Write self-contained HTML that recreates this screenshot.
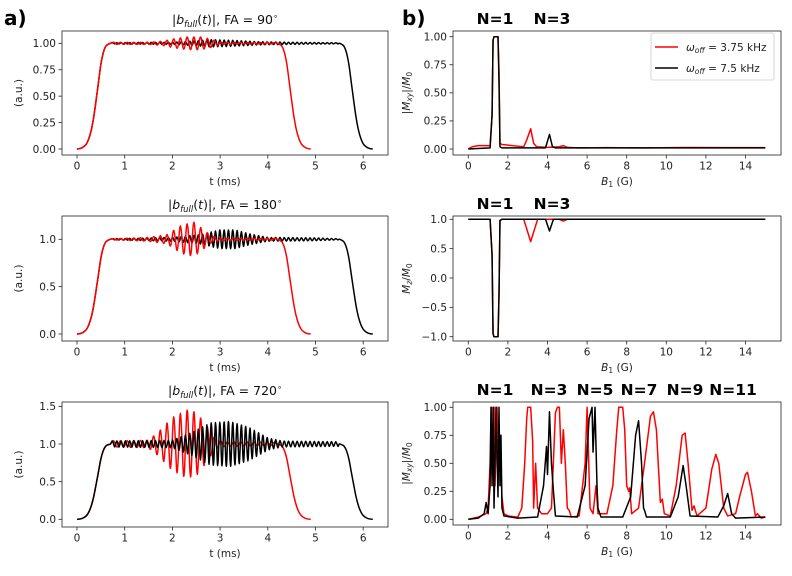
<!DOCTYPE html>
<html><head><meta charset="utf-8"><style>
body{margin:0;background:#fff}
svg{display:block;font-family:"DejaVu Sans","Liberation Sans",sans-serif}
</style></head><body>
<svg id="fig" width="792" height="576" viewBox="0 0 792 576" xmlns="http://www.w3.org/2000/svg">
<rect width="792" height="576" fill="#fff"/>
<text x="4" y="25" font-size="20" font-weight="bold">a)</text>
<text x="402" y="25" font-size="20" font-weight="bold">b)</text>
<g id="g"></g>
</svg>
<script>
// ---------- data ----------
const riseT=[0,0.05,0.1,0.15,0.2,0.25,0.3,0.35,0.4,0.45,0.5,0.55,0.6,0.65,0.7];
const riseV=[0,0.003,0.01,0.025,0.05,0.1,0.18,0.3,0.46,0.63,0.8,0.91,0.97,0.99,1];
const fallRedT=[4.2,4.25,4.3,4.35,4.4,4.45,4.5,4.55,4.6,4.65,4.7,4.75,4.8,4.85,4.9];
const fallBlackT=[5.5,5.55,5.6,5.65,5.7,5.75,5.8,5.85,5.9,5.95,6.0,6.05,6.1,6.15,6.2];
const fallV=[1,0.99,0.97,0.91,0.8,0.63,0.46,0.3,0.18,0.1,0.05,0.025,0.01,0.003,0];
// oscillation envelopes (time, amplitude)
const env90RedT=[0.7,1.5,1.8,2.0,2.3,2.6,2.8,3.0,4.2];
const env90RedA=[0.01,0.01,0.02,0.04,0.06,0.06,0.04,0.01,0.005];
const env90BlkT=[0.7,2.0,2.4,2.8,3.2,3.8,4.5,5.5];
const env90BlkA=[0.005,0.01,0.02,0.035,0.03,0.015,0.01,0.005];
const env180RedT=[0.7,1.0,1.5,1.9,2.2,2.45,2.6,2.8,3.0,4.2];
const env180RedA=[0.005,0.01,0.02,0.05,0.15,0.18,0.12,0.04,0.01,0.01];
const env180BlkT=[0.7,2.0,2.6,3.0,3.3,3.6,4.0,5.0,5.5];
const env180BlkA=[0.005,0.02,0.05,0.1,0.1,0.06,0.02,0.015,0.005];
const env720RedT=[0.7,1.5,1.7,2.0,2.3,2.5,2.7,2.9,3.1,4.2];
const env720RedA=[0.04,0.05,0.15,0.35,0.45,0.42,0.25,0.06,0.03,0.02];
const env720BlkT=[0.7,2.0,2.4,2.8,3.2,3.6,4.0,4.3,5.5];
const env720BlkA=[0.04,0.05,0.15,0.28,0.3,0.22,0.08,0.04,0.03];
const halfRed=0.07, halfBlk=0.045;
// B1 sweeps
const mxyRedB=[0,0.2,0.5,0.8,1.1,1.2,1.25,1.3,1.5,1.55,1.6,1.7,2.0,2.5,2.8,2.95,3.15,3.3,3.45,4.0,4.6,4.8,5.0,5.5,7,9,11,13,15];
const mxyRedV=[0,0.02,0.03,0.03,0.03,0.3,0.97,1,1,0.7,0.05,0.04,0.035,0.025,0.02,0.08,0.18,0.05,0.02,0.015,0.02,0.03,0.015,0.01,0.012,0.01,0.013,0.012,0.012];
const mxyBlkB=[0,1.1,1.2,1.25,1.3,1.5,1.55,1.6,1.7,3.9,4.1,4.25,4.4,15];
const mxyBlkV=[0,0.01,0.3,0.97,1,1,0.6,0.02,0.01,0.01,0.13,0.02,0.01,0.01];
const mzRedB=[0,1.1,1.2,1.25,1.3,1.5,1.55,1.6,1.7,2.8,3.15,3.5,4.6,4.8,5.0,15];
const mzRedV=[1,1,0.4,-0.95,-1,-1,-0.3,0.98,1,1,0.62,1,1,0.97,1,1];
const mzBlkB=[0,1.1,1.2,1.25,1.3,1.5,1.55,1.6,1.7,3.9,4.1,4.3,15];
const mzBlkV=[1,1,0.4,-0.95,-1,-1,-0.3,0.98,1,1,0.8,1,1];
const bRedB=[0,0.5,0.9,1.0,1.1,1.15,1.2,1.3,1.35,1.45,1.55,1.6,1.7,1.8,2.0,2.5,2.7,2.85,2.95,3.0,3.15,3.25,3.3,3.4,3.5,3.7,4.0,4.2,4.4,4.5,4.6,4.7,4.8,4.9,5.0,5.1,5.2,5.6,5.9,6.0,6.15,6.3,6.45,6.55,7.0,7.3,7.5,7.6,7.8,7.9,8.0,8.1,8.15,8.25,8.6,8.9,9.2,9.35,9.5,9.7,9.8,9.9,10.2,10.5,10.8,10.95,11.1,11.3,11.4,11.55,12.0,12.3,12.5,12.65,12.9,13.1,13.5,13.7,14.0,14.1,14.3,14.5,14.6,14.8,15];
const bRedV=[0,0.02,0.05,0.1,0.5,1,0.4,1,0.3,1,0.5,0.75,0.2,0.05,0.03,0.02,0.1,0.5,0.9,1,1,0.7,0.1,0.5,0.1,0.05,0.05,0.1,0.95,1,1,0.5,0.8,0.5,0.1,0.08,0.02,0.03,0.5,1,0.1,0.05,0.3,0.05,0.05,0.3,0.8,1,1,0.8,0.3,0.25,0.28,0.05,0.1,0.5,0.92,0.96,0.8,0.15,0.18,0.05,0.03,0.3,0.75,0.77,0.5,0.08,0.12,0.03,0.1,0.45,0.58,0.5,0.1,0.03,0.05,0.2,0.4,0.42,0.25,0.03,0.05,0.01,0.02];
const bBlkB=[0,0.5,0.8,0.9,1.0,1.1,1.15,1.2,1.25,1.3,1.4,1.5,1.55,1.6,1.65,1.7,1.8,2.5,3.5,3.8,3.95,4.0,4.1,4.2,4.3,4.4,5.5,5.9,6.1,6.25,6.3,6.4,6.5,6.55,6.7,7.8,8.2,8.45,8.6,8.75,8.85,8.9,9.0,10.2,10.6,10.85,11.0,11.2,12.6,12.9,13.1,13.3,13.5,15];
const bBlkV=[0,0.01,0.05,0.15,0.05,0.3,1,0.3,1,0.1,1,0.2,1,0.3,0.75,0.1,0.03,0.01,0.02,0.3,0.65,0.4,0.96,0.5,0.25,0.03,0.02,0.3,0.9,1,0.6,1,0.3,0.1,0.02,0.02,0.2,0.75,0.88,0.5,0.1,0.08,0.02,0.02,0.2,0.48,0.3,0.03,0.02,0.12,0.23,0.05,0.01,0.02];

// ---------- helpers ----------
const NS="http://www.w3.org/2000/svg";
const G=document.getElementById('g');
function el(tag,attrs,parent){const e=document.createElementNS(NS,tag);for(const k in attrs)e.setAttribute(k,attrs[k]);(parent||G).appendChild(e);return e;}
function interp(xs,ys,x){if(x<=xs[0])return ys[0];for(let i=1;i<xs.length;i++){if(x<=xs[i]){const f=(x-xs[i-1])/(xs[i]-xs[i-1]);return ys[i-1]+f*(ys[i]-ys[i-1]);}}return ys[ys.length-1];}
function pulse(fallT,envT,envA,half){
  const T=[],V=[];
  for(let i=0;i<riseT.length;i++){T.push(riseT[i]);V.push(riseV[i]);}
  const end=fallT[0];let k=1;
  for(let t=riseT[riseT.length-1]+half;t<end-half/2;t+=half,k++){T.push(t);V.push(1+(k%2?1:-1)*interp(envT,envA,t));}
  for(let i=0;i<fallT.length;i++){T.push(fallT[i]);V.push(fallV[i]);}
  return [T,V];
}
function smoothPath(P){
  let d='M'+P[0][0].toFixed(2)+','+P[0][1].toFixed(2);
  for(let i=0;i<P.length-1;i++){
    const p0=P[i-1]||P[i],p1=P[i],p2=P[i+1],p3=P[i+2]||P[i+1];
    const c1=[p1[0]+(p2[0]-p0[0])/6,p1[1]+(p2[1]-p0[1])/6];
    const c2=[p2[0]-(p3[0]-p1[0])/6,p2[1]-(p3[1]-p1[1])/6];
    d+=`C${c1[0].toFixed(2)},${c1[1].toFixed(2)} ${c2[0].toFixed(2)},${c2[1].toFixed(2)} ${p2[0].toFixed(2)},${p2[1].toFixed(2)}`;
  }
  return d;
}
function axes(p){
  const g=el('g',{});
  
  
  const fx=v=>p.x0+p.sx*v, fy=v=>p.y0-p.sy*v;
  p.series.forEach(s=>{
    const P=s.x.map((xv,i)=>[fx(xv),fy(s.y[i])]);
    let mark;
    if(p.smooth){mark=el('path',{d:smoothPath(P),fill:'none',stroke:s.c,'stroke-width':1.5,'stroke-linejoin':'round'},g);}
    else{mark=el('polyline',{points:P.map(q=>q[0].toFixed(2)+','+q[1].toFixed(2)).join(' '),fill:'none',stroke:s.c,'stroke-width':1.5,'stroke-linejoin':'round'},g);}
    
    
  });
  const fr=el('rect',{x:p.bx0,y:p.by0,width:p.bx1-p.bx0,height:p.by1-p.by0,fill:'none',stroke:'#222','stroke-width':0.8},g);
  
  
  p.xt.forEach(v=>{const X=fx(v);
    el('line',{x1:X,x2:X,y1:p.by1,y2:p.by1+3.5,stroke:'#222','stroke-width':0.8},g);
    const t=el('text',{x:X,y:p.by1+14.5,'font-size':10.5,'text-anchor':'middle',fill:'#222'},g);t.textContent=String(v);
    
    });
  p.yt.forEach((v,i)=>{const Y=fy(v);
    el('line',{x1:p.bx0-3.5,x2:p.bx0,y1:Y,y2:Y,stroke:'#222','stroke-width':0.8},g);
    const t=el('text',{x:p.bx0-6,y:Y+3.8,'font-size':10.5,'text-anchor':'end',fill:'#222'},g);t.textContent=p.ytl[i];
    
    });
  const xl=el('text',{x:(p.bx0+p.bx1)/2,y:p.by1+30,'font-size':10.5,'text-anchor':'middle',fill:'#222'},g);xl.innerHTML=p.xl;
  
  
  const cy=(p.by0+p.by1)/2;
  const yl=el('text',{x:p.ylx,y:cy,'font-size':10.5,'text-anchor':'middle',fill:'#222',transform:`rotate(-90 ${p.ylx} ${cy})`},g);yl.innerHTML=p.yl;
  
  
  if(p.title){const t=el('text',{x:(p.bx0+p.bx1)/2,y:p.by0-7,'font-size':12.5,'text-anchor':'middle',fill:'#111'},g);t.innerHTML=p.title;
    
    }
  (p.N||[]).forEach(n=>{const t=el('text',{x:n[0],y:p.by0-7,'font-size':15.5,'font-weight':'bold','text-anchor':'middle',fill:'#000'},g);t.textContent=n[1];
    
    });
}
const L={bx0:62,bx1:388,x0:77,sx:47.7,xt:[0,1,2,3,4,5,6],xl:'t (ms)',yl:'(a.u.)',ylx:22,smooth:true};
const R={bx0:453,bx1:781,x0:468.3,sx:19.8,xt:[0,2,4,6,8,10,12,14],xl:'<tspan font-style="italic">B</tspan><tspan font-size="7.5" dy="2">1</tspan><tspan dy="-2"> (G)</tspan>',ylx:410,smooth:false};
const tt=fa=>`|<tspan font-style="italic">b</tspan><tspan font-style="italic" font-size="8.5" dy="3">full</tspan><tspan dy="-3">(</tspan><tspan font-style="italic">t</tspan>)|, FA = ${fa}<tspan font-size="8" dy="-5">∘</tspan>`;
const mxy='|<tspan font-style="italic">M</tspan><tspan font-style="italic" font-size="7.5" dy="2">xy</tspan><tspan dy="-2">|/</tspan><tspan font-style="italic">M</tspan><tspan font-size="7.5" dy="2">0</tspan>';
const mz='<tspan font-style="italic">M</tspan><tspan font-style="italic" font-size="7.5" dy="2">z</tspan><tspan dy="-2">/</tspan><tspan font-style="italic">M</tspan><tspan font-size="7.5" dy="2">0</tspan>';
const yt4=[0,0.25,0.5,0.75,1],yt4l=['0.00','0.25','0.50','0.75','1.00'];
let a,b;
[a,b]=[pulse(fallRedT,env90RedT,env90RedA,halfRed),pulse(fallBlackT,env90BlkT,env90BlkA,halfBlk)];
axes(Object.assign({},L,{name:'pulse-fa90',by0:31,by1:155,y0:149,sy:105.7,yt:yt4,ytl:yt4l,title:tt(90),
 series:[{x:b[0],y:b[1],c:'#000',n:'pulse-7.5khz'},{x:a[0],y:a[1],c:'#ff0000',n:'pulse-3.75khz'}]}));
[a,b]=[pulse(fallRedT,env180RedT,env180RedA,halfRed),pulse(fallBlackT,env180BlkT,env180BlkA,halfBlk)];
axes(Object.assign({},L,{name:'pulse-fa180',by0:216,by1:341,y0:334,sy:94.7,yt:[0,0.5,1],ytl:['0.0','0.5','1.0'],title:tt(180),
 series:[{x:b[0],y:b[1],c:'#000',n:'pulse-7.5khz'},{x:a[0],y:a[1],c:'#ff0000',n:'pulse-3.75khz'}]}));
[a,b]=[pulse(fallRedT,env720RedT,env720RedA,halfRed),pulse(fallBlackT,env720BlkT,env720BlkA,halfBlk)];
axes(Object.assign({},L,{name:'pulse-fa720',by0:402,by1:527,y0:519.3,sy:75.3,yt:[0,0.5,1,1.5],ytl:['0.0','0.5','1.0','1.5'],title:tt(720),
 series:[{x:a[0],y:a[1],c:'#ff0000',n:'pulse-3.75khz'},{x:b[0],y:b[1],c:'#000',n:'pulse-7.5khz'}]}));
axes(Object.assign({},R,{name:'mxy-fa90',by0:31,by1:155,y0:149,sy:112.3,yt:yt4,ytl:yt4l,yl:mxy,N:[[495,'N=1'],[552,'N=3']],
 series:[{x:mxyRedB,y:mxyRedV,c:'#ff0000',n:'mxy-3.75khz'},{x:mxyBlkB,y:mxyBlkV,c:'#000',n:'mxy-7.5khz'}]}));
axes(Object.assign({},R,{name:'mz-fa180',by0:216,by1:341,y0:278,sy:58.7,yt:[-1,-0.5,0,0.5,1],ytl:['\u22121.0','\u22120.5','0.0','0.5','1.0'],yl:mz,N:[[495,'N=1'],[552,'N=3']],
 series:[{x:mzRedB,y:mzRedV,c:'#ff0000',n:'mz-3.75khz'},{x:mzBlkB,y:mzBlkV,c:'#000',n:'mz-7.5khz'}]}));
axes(Object.assign({},R,{name:'mxy-fa720',by0:402,by1:525,y0:519.3,sy:112,yt:yt4,ytl:yt4l,yl:mxy,N:[[495,'N=1'],[549,'N=3'],[595,'N=5'],[639,'N=7'],[685,'N=9'],[733,'N=11']],
 series:[{x:bRedB,y:bRedV,c:'#ff0000',n:'mxy-3.75khz'},{x:bBlkB,y:bBlkV,c:'#000',n:'mxy-7.5khz'}]}));
// legend
const lg=el('g',{});


el('rect',{x:651,y:33,width:123,height:47,rx:2,fill:'#fff',stroke:'#ccc','stroke-width':0.8},lg);
[['#ff0000','3.75 kHz',47],['#000','7.5 kHz',68]].forEach(r=>{
  const ln=el('line',{x1:655,x2:678,y1:r[2],y2:r[2],stroke:r[0],'stroke-width':1.5},lg);
  
  
  const t=el('text',{x:686,y:r[2]+4,'font-size':10.5,fill:'#222'},lg);
  t.innerHTML='<tspan font-style="italic">ω</tspan><tspan font-style="italic" font-size="7.5" dy="2">off</tspan><tspan dy="-2"> = '+r[1]+'</tspan>';
  
  
});
</script>
</body></html>
